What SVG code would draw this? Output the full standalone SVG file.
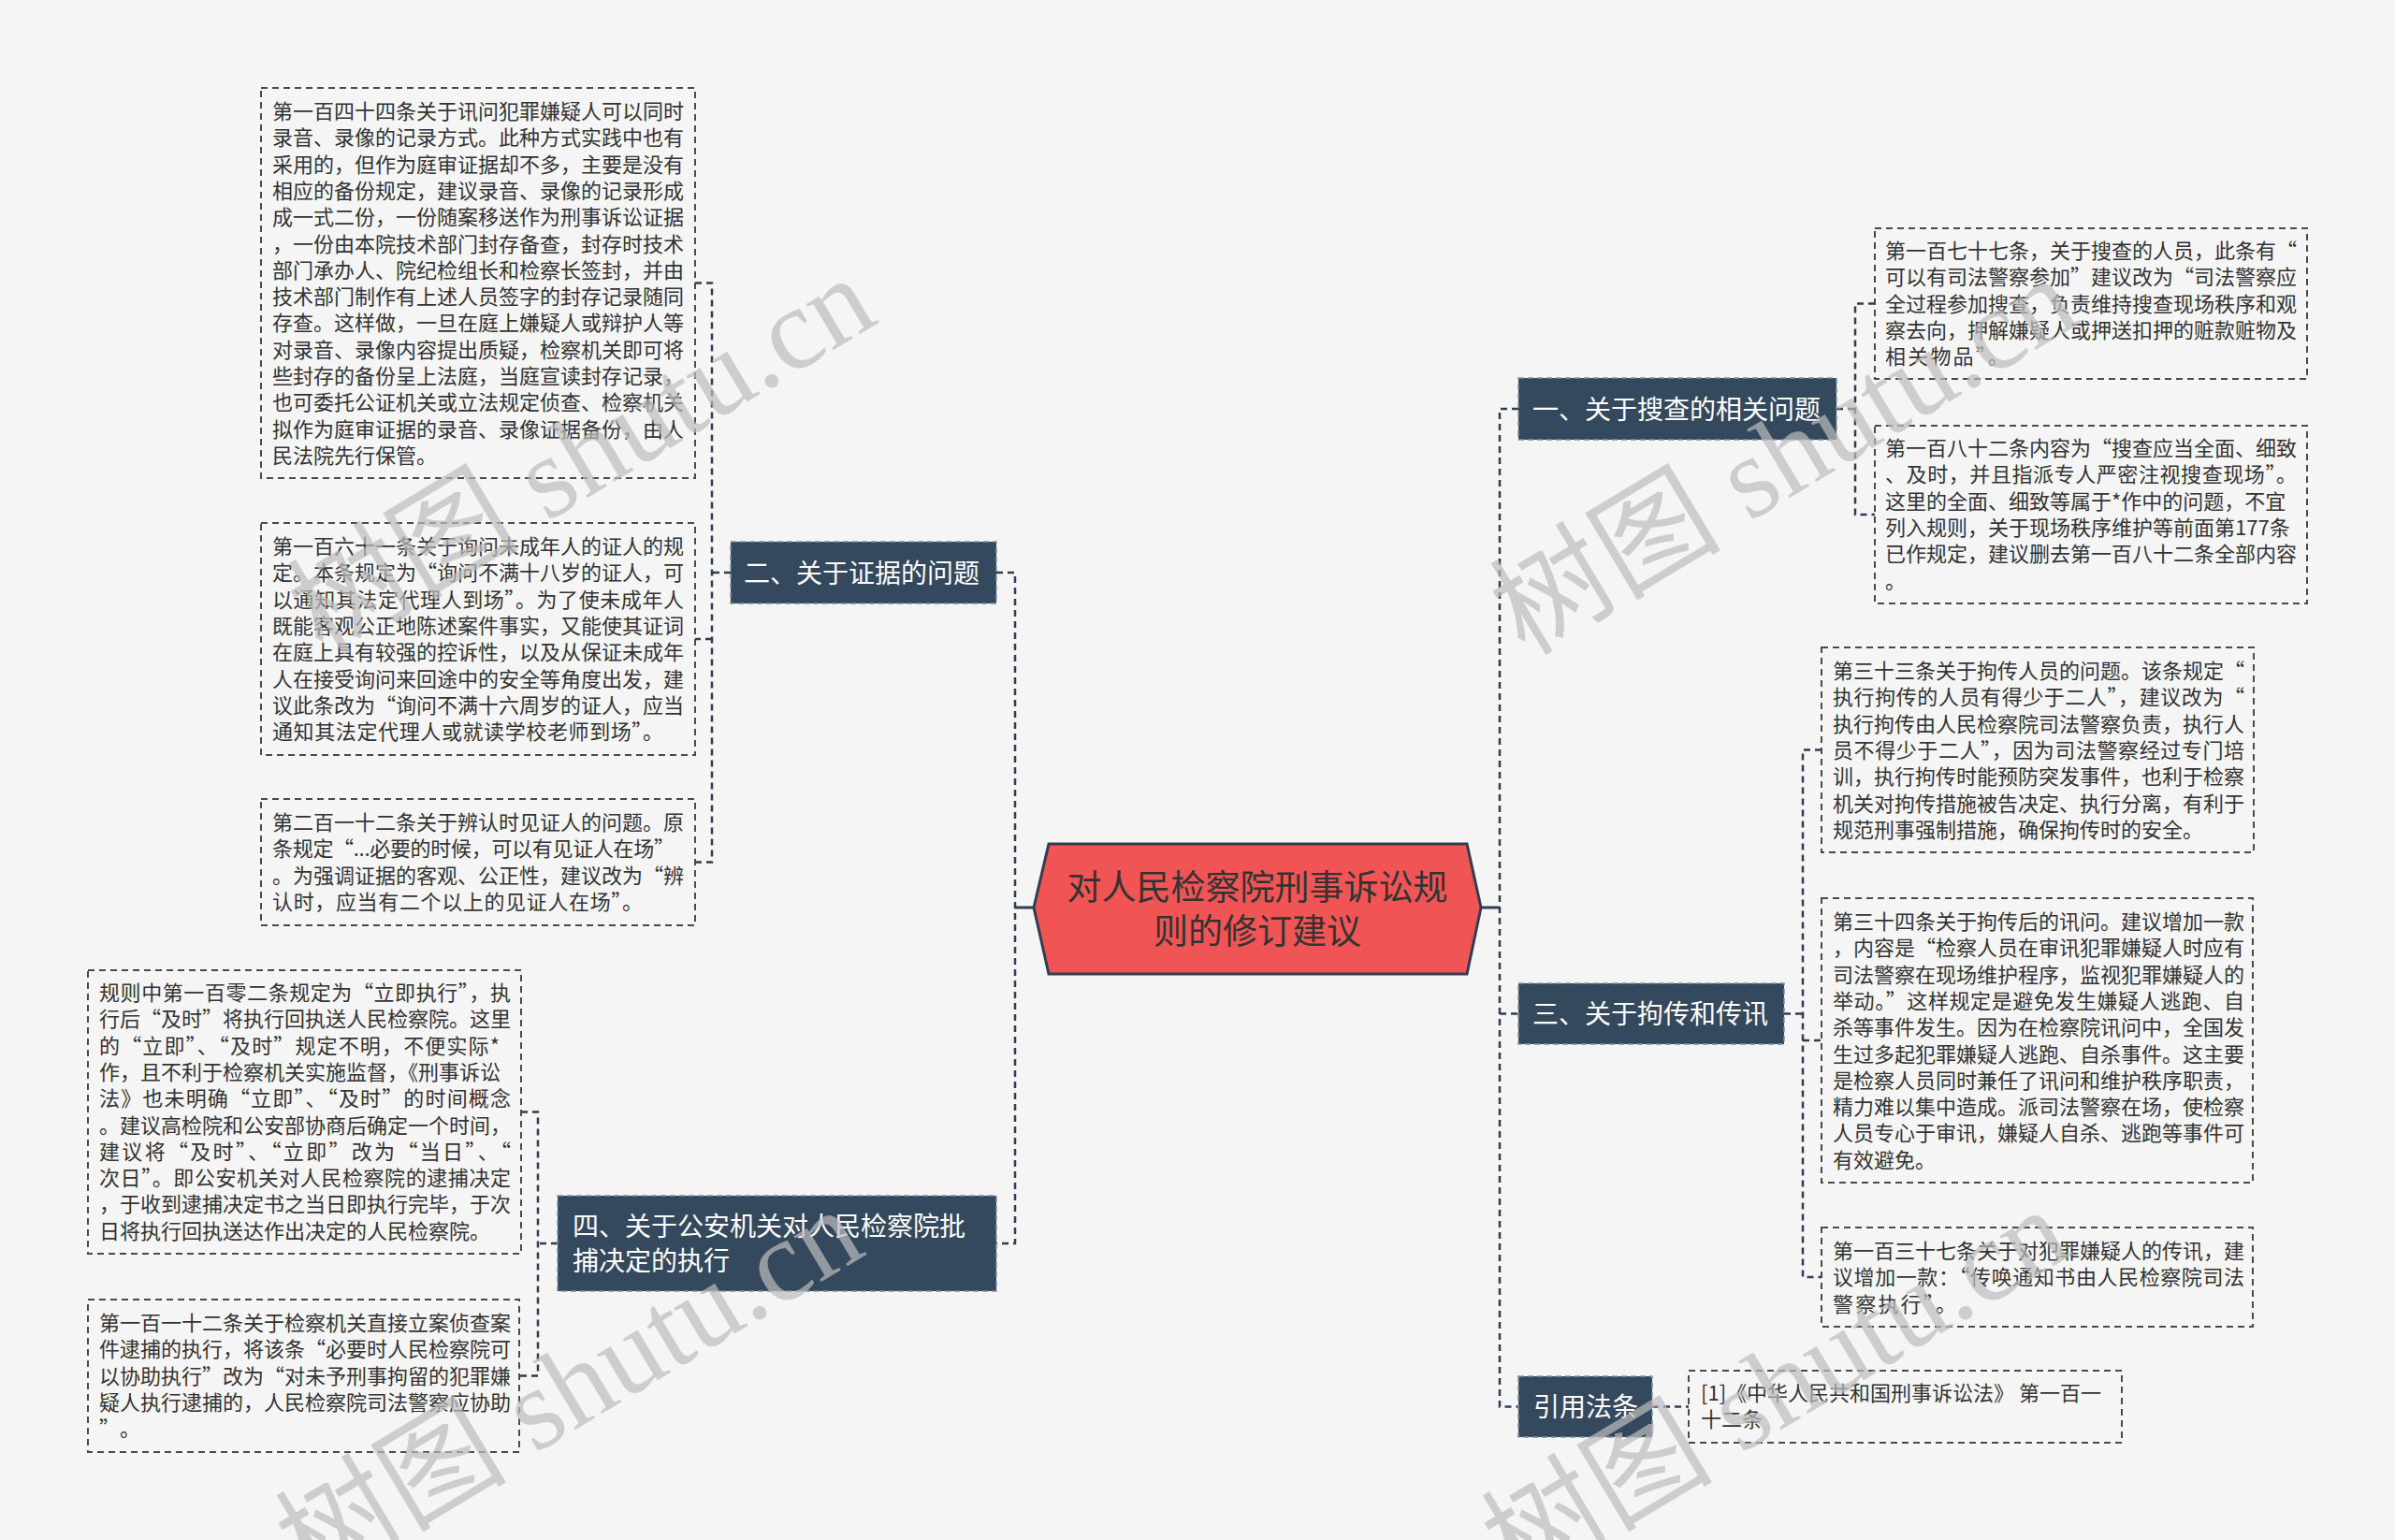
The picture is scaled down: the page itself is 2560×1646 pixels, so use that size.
<svg xmlns="http://www.w3.org/2000/svg" width="2560" height="1646" viewBox="0 0 2560 1646">
<style>
.bg{fill:#f5f5f5}
.box{fill:#f5f5f5;stroke:#4a4a4a;stroke-width:2;stroke-dasharray:7 5}
.bt{font-family:"Noto Sans CJK SC","Noto Sans",sans-serif;font-size:22px;fill:#333}
.cat{fill:#34495e;stroke:#7d8fa3;stroke-width:1.5;stroke-dasharray:6 4}
.ct{font-family:"Noto Sans CJK SC","Noto Sans",sans-serif;font-size:28px;fill:#ffffff}
.root{fill:#f05454;stroke:#2f3e50;stroke-width:3;stroke-linejoin:miter}
.rt{font-family:"Noto Sans CJK SC","Noto Sans",sans-serif;font-size:37px;fill:#333;text-anchor:middle}
.ln{fill:none;stroke:#2f3e50;stroke-width:2.5;stroke-dasharray:7 5}
.ls{fill:none;stroke:#2f3e50;stroke-width:3}
.wm{font-family:"Liberation Serif","Noto Sans CJK SC",serif;font-size:124px;fill:#bdbdbd;opacity:0.7}
</style>
<rect class="bg" x="0" y="0" width="2560" height="1646"/>

<g id="connectors">
  <path class="ls" d="M1105,970 H1085"/>
  <path class="ls" d="M1583,970 H1603"/>
  <path class="ln" d="M1065,612 H1085 V1329 H1065"/>
  <path class="ln" d="M781,612 H761"/>
  <path class="ln" d="M743,302.5 H761 V921.5 H743"/>
  <path class="ln" d="M761,683 H743"/>
  <path class="ln" d="M596,1329 H575"/>
  <path class="ln" d="M557,1188.5 H575 V1470.5 H555"/>
  <path class="ln" d="M1623,437 H1603 V1503.5 H1623"/>
  <path class="ln" d="M1603,1083.5 H1623"/>
  <path class="ln" d="M1963,437 H1983"/>
  <path class="ln" d="M2004,324.5 H1983 V550 H2004"/>
  <path class="ln" d="M1907,1083.5 H1927"/>
  <path class="ln" d="M1947,801.5 H1927 V1365 H1947"/>
  <path class="ln" d="M1927,1112 H1947"/>
  <path class="ln" d="M1766,1503.5 H1805"/>
</g>

<g id="root">
  <polygon class="root" points="1105,970 1121,902 1568,902 1583,970 1568,1041 1121,1041"/>
  <text class="rt"><tspan x="1344" y="962">对人民检察院刑事诉讼规</tspan><tspan x="1344" y="1009">则的修订建议</tspan></text>
</g>

<g id="n1">
  <rect class="cat" x="1623" y="404" width="340" height="66"/>
  <text class="ct" x="1638" y="447.6">一、关于搜查的相关问题</text>
</g>
<g id="n2">
  <rect class="cat" x="781" y="579" width="284" height="66"/>
  <text class="ct" x="795" y="622.6">二、关于证据的问题</text>
</g>
<g id="n3">
  <rect class="cat" x="1623" y="1051" width="284" height="65"/>
  <text class="ct" x="1638" y="1094">三、关于拘传和传讯</text>
</g>
<g id="n4">
  <rect class="cat" x="596" y="1278" width="469" height="102"/>
  <text class="ct"><tspan x="612" y="1321">四、关于公安机关对人民检察院批</tspan><tspan x="612" y="1358">捕决定的执行</tspan></text>
</g>
<g id="n5">
  <rect class="cat" x="1623" y="1471" width="143" height="65"/>
  <text class="ct" x="1639" y="1514">引用法条</text>
</g>

<g id="b1">
  <rect class="box" x="279" y="94" width="464" height="417"/>
  <text class="bt"><tspan x="291" y="127">第一百四十四条关于讯问犯罪嫌疑人可以同时</tspan><tspan x="291" dy="28.3">录音、录像的记录方式。此种方式实践中也有</tspan><tspan x="291" dy="28.3">采用的，但作为庭审证据却不多，主要是没有</tspan><tspan x="291" dy="28.3">相应的备份规定，建议录音、录像的记录形成</tspan><tspan x="291" dy="28.3">成一式二份，一份随案移送作为刑事诉讼证据</tspan><tspan x="291" dy="28.3">，一份由本院技术部门封存备查，封存时技术</tspan><tspan x="291" dy="28.3">部门承办人、院纪检组长和检察长签封，并由</tspan><tspan x="291" dy="28.3">技术部门制作有上述人员签字的封存记录随同</tspan><tspan x="291" dy="28.3">存查。这样做，一旦在庭上嫌疑人或辩护人等</tspan><tspan x="291" dy="28.3">对录音、录像内容提出质疑，检察机关即可将</tspan><tspan x="291" dy="28.3">些封存的备份呈上法庭，当庭宣读封存记录，</tspan><tspan x="291" dy="28.3">也可委托公证机关或立法规定侦查、检察机关</tspan><tspan x="291" dy="28.3">拟作为庭审证据的录音、录像证据备份，由人</tspan><tspan x="291" dy="28.3">民法院先行保管。</tspan></text>
</g>
<g id="b2">
  <rect class="box" x="279" y="559" width="464" height="248"/>
  <text class="bt"><tspan x="291" y="592">第一百六十一条关于询问未成年人的证人的规</tspan><tspan x="291" dy="28.3" textLength="440" lengthAdjust="spacing">定。本条规定为“询问不满十八岁的证人，可</tspan><tspan x="291" dy="28.3" textLength="440" lengthAdjust="spacing">以通知其法定代理人到场”。为了使未成年人</tspan><tspan x="291" dy="28.3">既能客观公正地陈述案件事实，又能使其证词</tspan><tspan x="291" dy="28.3">在庭上具有较强的控诉性，以及从保证未成年</tspan><tspan x="291" dy="28.3">人在接受询问来回途中的安全等角度出发，建</tspan><tspan x="291" dy="28.3" textLength="440" lengthAdjust="spacing">议此条改为“询问不满十六周岁的证人，应当</tspan><tspan x="291" dy="28.3" textLength="418" lengthAdjust="spacing">通知其法定代理人或就读学校老师到场”。</tspan></text>
</g>
<g id="b3">
  <rect class="box" x="279" y="854" width="464" height="135"/>
  <text class="bt"><tspan x="291" y="887">第二百一十二条关于辨认时见证人的问题。原</tspan><tspan x="291" dy="28.3" textLength="430" lengthAdjust="spacing">条规定“...必要的时候，可以有见证人在场”</tspan><tspan x="291" dy="28.3" textLength="440" lengthAdjust="spacing">。为强调证据的客观、公正性，建议改为“辨</tspan><tspan x="291" dy="28.3" textLength="396" lengthAdjust="spacing">认时，应当有二个以上的见证人在场”。</tspan></text>
</g>
<g id="b4">
  <rect class="box" x="94" y="1037" width="463" height="303"/>
  <text class="bt"><tspan x="106" y="1069" textLength="440" lengthAdjust="spacing">规则中第一百零二条规定为“立即执行”，执</tspan><tspan x="106" dy="28.3" textLength="440" lengthAdjust="spacing">行后“及时”将执行回执送人民检察院。这里</tspan><tspan x="106" dy="28.3" textLength="428" lengthAdjust="spacing">的“立即”、“及时”规定不明，不便实际*</tspan><tspan x="106" dy="28.3">作，且不利于检察机关实施监督，《刑事诉讼</tspan><tspan x="106" dy="28.3" textLength="440" lengthAdjust="spacing">法》也未明确“立即”、“及时”的时间概念</tspan><tspan x="106" dy="28.3">。建议高检院和公安部协商后确定一个时间，</tspan><tspan x="106" dy="28.3" textLength="440" lengthAdjust="spacing">建议将“及时”、“立即”改为“当日”、“</tspan><tspan x="106" dy="28.3" textLength="440" lengthAdjust="spacing">次日”。即公安机关对人民检察院的逮捕决定</tspan><tspan x="106" dy="28.3">，于收到逮捕决定书之当日即执行完毕，于次</tspan><tspan x="106" dy="28.3">日将执行回执送达作出决定的人民检察院。</tspan></text>
</g>
<g id="b5">
  <rect class="box" x="94" y="1389" width="461" height="163"/>
  <text class="bt"><tspan x="106" y="1422">第一百一十二条关于检察机关直接立案侦查案</tspan><tspan x="106" dy="28.3" textLength="440" lengthAdjust="spacing">件逮捕的执行，将该条“必要时人民检察院可</tspan><tspan x="106" dy="28.3" textLength="440" lengthAdjust="spacing">以协助执行”改为“对未予刑事拘留的犯罪嫌</tspan><tspan x="106" dy="28.3">疑人执行逮捕的，人民检察院司法警察应协助</tspan><tspan x="106" dy="28.3" textLength="44" lengthAdjust="spacing">”。</tspan></text>
</g>
<g id="b6">
  <rect class="box" x="2004" y="244" width="462" height="161"/>
  <text class="bt"><tspan x="2015" y="276" textLength="440" lengthAdjust="spacing">第一百七十七条，关于搜查的人员，此条有“</tspan><tspan x="2015" dy="28.3" textLength="440" lengthAdjust="spacing">可以有司法警察参加”建议改为“司法警察应</tspan><tspan x="2015" dy="28.3">全过程参加搜查，负责维持搜查现场秩序和观</tspan><tspan x="2015" dy="28.3">察去向，押解嫌疑人或押送扣押的赃款赃物及</tspan><tspan x="2015" dy="28.3" textLength="132" lengthAdjust="spacing">相关物品”。</tspan></text>
</g>
<g id="b7">
  <rect class="box" x="2004" y="455" width="462" height="190"/>
  <text class="bt"><tspan x="2015" y="487" textLength="440" lengthAdjust="spacing">第一百八十二条内容为“搜查应当全面、细致</tspan><tspan x="2015" dy="28.3" textLength="440" lengthAdjust="spacing">、及时，并且指派专人严密注视搜查现场”。</tspan><tspan x="2015" dy="28.3">这里的全面、细致等属于*作中的问题，不宜</tspan><tspan x="2015" dy="28.3">列入规则，关于现场秩序维护等前面第177条</tspan><tspan x="2015" dy="28.3">已作规定，建议删去第一百八十二条全部内容</tspan><tspan x="2015" dy="28.3">。</tspan></text>
</g>
<g id="b8">
  <rect class="box" x="1947" y="692" width="462" height="219"/>
  <text class="bt"><tspan x="1959" y="725" textLength="440" lengthAdjust="spacing">第三十三条关于拘传人员的问题。该条规定“</tspan><tspan x="1959" dy="28.3" textLength="440" lengthAdjust="spacing">执行拘传的人员有得少于二人”，建议改为“</tspan><tspan x="1959" dy="28.3">执行拘传由人民检察院司法警察负责，执行人</tspan><tspan x="1959" dy="28.3" textLength="440" lengthAdjust="spacing">员不得少于二人”，因为司法警察经过专门培</tspan><tspan x="1959" dy="28.3">训，执行拘传时能预防突发事件，也利于检察</tspan><tspan x="1959" dy="28.3">机关对拘传措施被告决定、执行分离，有利于</tspan><tspan x="1959" dy="28.3">规范刑事强制措施，确保拘传时的安全。</tspan></text>
</g>
<g id="b9">
  <rect class="box" x="1947" y="960" width="461" height="304"/>
  <text class="bt"><tspan x="1959" y="993">第三十四条关于拘传后的讯问。建议增加一款</tspan><tspan x="1959" dy="28.3" textLength="440" lengthAdjust="spacing">，内容是“检察人员在审讯犯罪嫌疑人时应有</tspan><tspan x="1959" dy="28.3">司法警察在现场维护程序，监视犯罪嫌疑人的</tspan><tspan x="1959" dy="28.3" textLength="440" lengthAdjust="spacing">举动。”这样规定是避免发生嫌疑人逃跑、自</tspan><tspan x="1959" dy="28.3">杀等事件发生。因为在检察院讯问中，全国发</tspan><tspan x="1959" dy="28.3">生过多起犯罪嫌疑人逃跑、自杀事件。这主要</tspan><tspan x="1959" dy="28.3">是检察人员同时兼任了讯问和维护秩序职责，</tspan><tspan x="1959" dy="28.3">精力难以集中造成。派司法警察在场，使检察</tspan><tspan x="1959" dy="28.3">人员专心于审讯，嫌疑人自杀、逃跑等事件可</tspan><tspan x="1959" dy="28.3">有效避免。</tspan></text>
</g>
<g id="b10">
  <rect class="box" x="1947" y="1312" width="461" height="106"/>
  <text class="bt"><tspan x="1959" y="1345">第一百三十七条关于对犯罪嫌疑人的传讯，建</tspan><tspan x="1959" dy="28.3" textLength="440" lengthAdjust="spacing">议增加一款：“传唤通知书由人民检察院司法</tspan><tspan x="1959" dy="28.3" textLength="132" lengthAdjust="spacing">警察执行”。</tspan></text>
</g>
<g id="b11">
  <rect class="box" x="1805" y="1465" width="463" height="77"/>
  <text class="bt"><tspan x="1818" y="1497">[1]《中华人民共和国刑事诉讼法》 第一百一</tspan><tspan x="1818" dy="28.3">十二条</tspan></text>
</g>

<g id="watermark">
  <text class="wm" transform="translate(345,702) rotate(-31)">树图 shutu.cn</text>
  <text class="wm" transform="translate(1630,702) rotate(-31)">树图 shutu.cn</text>
  <text class="wm" transform="translate(332,1698) rotate(-31)">树图 shutu.cn</text>
  <text class="wm" transform="translate(1621,1698) rotate(-31)">树图 shutu.cn</text>
</g>
</svg>
